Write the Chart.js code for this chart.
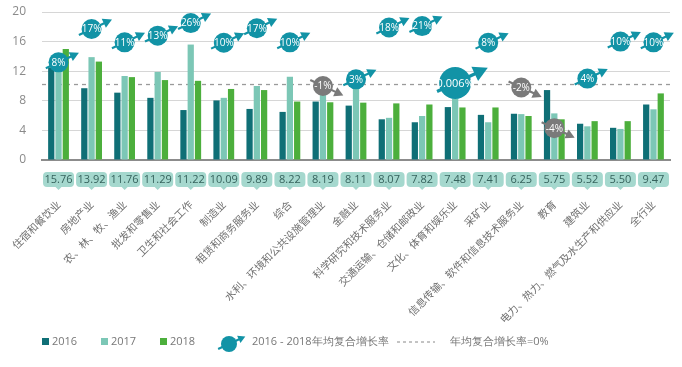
<!DOCTYPE html>
<html>
<head>
<meta charset="utf-8">
<script src="https://cdn.jsdelivr.net/npm/chart.js@4.4.0/dist/chart.umd.min.js"></script>
<style>
  html, body { margin: 0; padding: 0; background: #fff; }
  #wrap { width: 682px; height: 367px; position: relative; }
</style>
</head>
<body>
<div id="wrap"><canvas id="chart"></canvas></div>
<script>

// industries, sorted by 2018 average wage
var labels = ['住宿和餐饮业', '房地产业', '农、林、牧、渔业', '批发和零售业', '卫生和社会工作', '制造业',
  '租赁和商务服务业', '综合', '水利、环境和公共设施管理业', '金融业', '科学研究和技术服务业',
  '交通运输、仓储和邮政业', '文化、体育和娱乐业', '采矿业', '信息传输、软件和信息技术服务业',
  '教育', '建筑业', '电力、热力、燃气及水生产和供应业', '全行业'];

var y2016 = [12.5, 9.7, 9.1, 8.4, 6.75, 8.05, 6.9, 6.5, 7.9, 7.35, 5.5, 5.1, 7.15, 6.1, 6.25, 9.45, 4.9, 4.35, 7.5];
var y2017 = [12.6, 13.9, 11.35, 11.9, 15.6, 8.4, 10.0, 11.25, 9.0, 10.0, 5.7, 5.95, 8.3, 5.1, 6.2, 6.3, 4.55, 4.2, 6.85];
var y2018 = [15.0, 13.3, 11.2, 10.8, 10.7, 9.6, 9.45, 7.9, 7.8, 7.75, 7.65, 7.5, 7.1, 7.1, 5.95, 5.5, 5.25, 5.25, 9.0];

// 2016-2018 compound annual growth rate, and where its bubble sits
var growth = ['8%', '17%', '11%', '13%', '26%', '10%', '17%', '10%', '-1%', '3%', '18%', '21%', '0.006%',
  '8%', '-2%', '-4%', '4%', '10%', '10%'];
var growthY = [13.2, 17.7, 15.9, 16.8, 18.5, 15.85, 17.8, 15.9, 10.0, 10.9, 17.9, 18.1, 10.4,
  15.85, 9.8, 4.3, 11.0, 16.0, 15.9];

var wages = ['15.76', '13.92', '11.76', '11.29', '11.22', '10.09', '9.89', '8.22', '8.19', '8.11',
  '8.07', '7.82', '7.48', '7.41', '6.25', '5.75', '5.52', '5.50', '9.47'];

var zeroGrowth = 10.2;

var C16 = '#0f6f76', C17 = '#7cc7b6', C18 = '#4caf3c';
var BUB = '#1293a6', NEG = '#7a7a7a';

function bubR(i) { return growth[i].length > 4 ? 16 : 10; }
function bubC(i) { return growth[i].charAt(0) === '-' ? NEG : BUB; }

function drawArrow(ctx, x, y, r, color, down) {
  var a = (down ? 25 : -25) * Math.PI / 180;
  var cs = Math.cos(a), sn = Math.sin(a);
  var head = r * 0.9, tip = r * 2.25;
  ctx.save();
  ctx.strokeStyle = color;
  ctx.fillStyle = color;
  ctx.lineWidth = r > 12 ? 3.2 : 2.2;
  ctx.beginPath();
  ctx.moveTo(x - cs * (r + 4), y - sn * (r + 4));
  ctx.lineTo(x + cs * (tip - head + 1), y + sn * (tip - head + 1));
  ctx.stroke();
  var bx = x + cs * (tip - head), by = y + sn * (tip - head);
  var hw = head * 0.55;
  ctx.beginPath();
  ctx.moveTo(x + cs * tip, y + sn * tip);
  ctx.lineTo(bx - sn * hw, by + cs * hw);
  ctx.lineTo(bx + sn * hw, by - cs * hw);
  ctx.closePath();
  ctx.fill();
  ctx.restore();
}

function roundRect(ctx, x, y, w, h, r) {
  ctx.beginPath();
  ctx.moveTo(x + r, y);
  ctx.lineTo(x + w - r, y);
  ctx.quadraticCurveTo(x + w, y, x + w, y + r);
  ctx.lineTo(x + w, y + h - r);
  ctx.quadraticCurveTo(x + w, y + h, x + w - r, y + h);
  ctx.lineTo(x + w / 2 + 3, y + h);
  ctx.lineTo(x + w / 2, y + h + 3);
  ctx.lineTo(x + w / 2 - 3, y + h);
  ctx.lineTo(x + r, y + h);
  ctx.quadraticCurveTo(x, y + h, x, y + h - r);
  ctx.lineTo(x, y + r);
  ctx.quadraticCurveTo(x, y, x + r, y);
  ctx.closePath();
}

var extras = {
  id: 'extras',
  beforeDatasetsDraw: function(chart) {
    // dashed line: growth = 0%
    var ctx = chart.ctx, area = chart.chartArea;
    var yy = chart.scales.y.getPixelForValue(zeroGrowth);
    ctx.save();
    ctx.strokeStyle = '#9a9a9a';
    ctx.lineWidth = 1.3;
    ctx.setLineDash([4, 4]);
    ctx.beginPath();
    ctx.moveTo(area.left, yy);
    ctx.lineTo(area.right, yy);
    ctx.stroke();
    ctx.restore();
  },
  beforeDatasetDraw: function(chart, args) {
    if (args.index !== 3) return;
    var ctx = chart.ctx;
    args.meta.data.forEach(function(pt, i) {
      drawArrow(ctx, pt.x, pt.y, bubR(i), bubC(i), growth[i].charAt(0) === '-');
    });
  },
  afterDatasetsDraw: function(chart) {
    var ctx = chart.ctx;
    var meta = chart.getDatasetMeta(3);
    ctx.save();
    ctx.fillStyle = '#fff';
    ctx.textAlign = 'center';
    ctx.textBaseline = 'middle';
    meta.data.forEach(function(pt, i) {
      ctx.font = (bubR(i) > 12 ? '11px' : '10px') + ' "Open Sans"';
      ctx.fillText(growth[i], pt.x, pt.y + 0.5);
    });
    ctx.restore();
  },
  afterDraw: function(chart) {
    var ctx = chart.ctx, area = chart.chartArea, xs = chart.scales.x;
    ctx.save();
    // wage boxes under the axis
    ctx.font = '11px "Open Sans"';
    ctx.textAlign = 'center';
    ctx.textBaseline = 'middle';
    wages.forEach(function(w, i) {
      var cx = xs.getPixelForValue(i);
      var top = area.bottom + 12;
      ctx.fillStyle = '#a5d8ce';
      roundRect(ctx, cx - 15.5, top, 31, 15, 4);
      ctx.fill();
      ctx.fillStyle = '#35625c';
      ctx.fillText(w, cx, top + 7.8);
    });

    // legend
    var ly = 342;
    ctx.font = '11px "Open Sans"';
    ctx.textAlign = 'left';
    [[C16, '2016', 42], [C17, '2017', 101], [C18, '2018', 160]].forEach(function(it) {
      ctx.fillStyle = it[0];
      ctx.fillRect(it[2], ly - 4, 7, 7);
      ctx.fillStyle = '#777';
      ctx.fillText(it[1], it[2] + 10, ly);
    });
    drawArrow(ctx, 229, ly + 2, 8, BUB, false);
    ctx.beginPath();
    ctx.arc(229, ly + 2, 8, 0, Math.PI * 2);
    ctx.fillStyle = BUB;
    ctx.fill();
    ctx.fillStyle = '#777';
    ctx.fillText('2016 - 2018年均复合增长率', 252, ly);
    ctx.strokeStyle = '#888';
    ctx.lineWidth = 1;
    ctx.setLineDash([3, 3]);
    ctx.beginPath();
    ctx.moveTo(397, ly);
    ctx.lineTo(435, ly);
    ctx.stroke();
    ctx.setLineDash([]);
    ctx.fillText('年均复合增长率=0%', 450, ly);
    ctx.restore();
  }
};

var ctx = document.getElementById('chart').getContext('2d');
new Chart(ctx, {
  type: 'bar',
  data: {
    labels: labels,
    datasets: [
      { label: '2016', data: y2016, backgroundColor: C16, order: 1 },
      { label: '2017', data: y2017, backgroundColor: C17, order: 1 },
      { label: '2018', data: y2018, backgroundColor: C18, order: 1 },
      {
        type: 'line',
        label: '2016 - 2018年均复合增长率',
        data: growthY,
        showLine: false,
        order: 0,
        pointRadius: function(c) { return bubR(c.dataIndex); },
        pointHoverRadius: function(c) { return bubR(c.dataIndex); },
        pointBackgroundColor: function(c) { return bubC(c.dataIndex); },
        pointBorderWidth: 0
      }
    ]
  },
  options: {
    responsive: true,
    maintainAspectRatio: false,
    animation: false,
    layout: { padding: { top: 12, right: 12, left: 0, bottom: 0 } },
    datasets: {
      bar: { categoryPercentage: 0.66, barPercentage: 0.86 }
    },
    plugins: {
      legend: { display: false },
      tooltip: { enabled: false }
    },
    scales: {
      x: {
        grid: { display: false, drawTicks: false },
        border: { display: true, color: '#8c8c8c', width: 2 },
        ticks: {
          autoSkip: false,
          minRotation: 45,
          maxRotation: 45,
          padding: 38,
          color: '#707070',
          font: { family: '"Noto Sans CJK SC"', size: 10.5 }
        },
        afterFit: function(s) {
          s.height = 207;
          s.paddingLeft = 0;
          s.paddingRight = 0;
        }
      },
      y: {
        min: 0,
        max: 20,
        grid: { color: '#d6d6d6', drawTicks: false },
        border: { display: false },
        ticks: {
          stepSize: 4,
          padding: 16,
          color: '#8a8a8a',
          font: { family: '"Open Sans"', size: 12 }
        },
        afterFit: function(s) {
          s.width = 42;
          s.paddingTop = 0;
          s.paddingBottom = 0;
        }
      }
    }
  },
  plugins: [extras]
});
</script>
</body>
</html>
